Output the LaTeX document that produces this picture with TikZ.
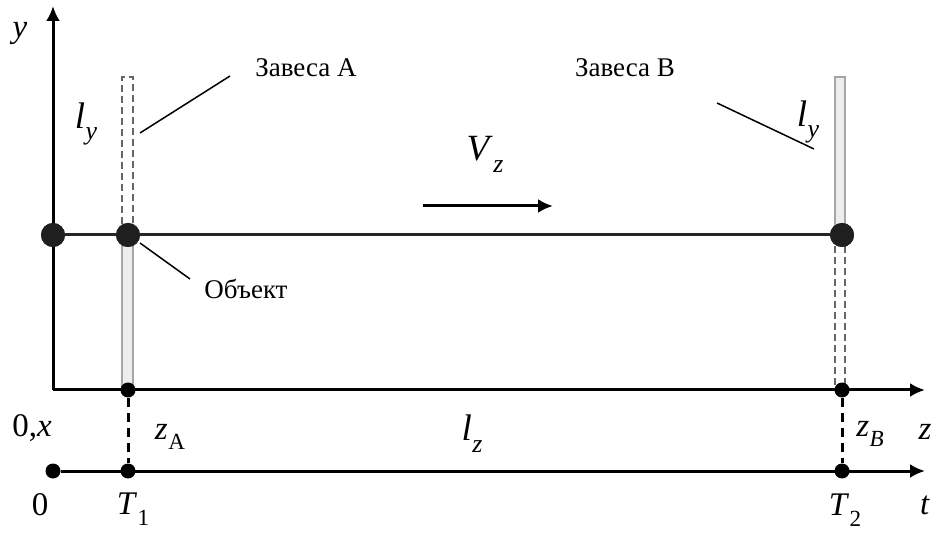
\documentclass[tikz,border=0pt]{standalone}
\usepackage{fontspec}
\usepackage{graphicx}
\setmainfont{Liberation Serif}
\usetikzlibrary{arrows.meta}

\newcommand\symsub[2]{\textit{#1}\kern0.5pt\raisebox{-0.32em}{\scalebox{0.7}{#2}}}

\tikzset{
  axis/.style={line width=3pt,-{Latex[length=15pt,width=14pt]}},
  bigdot/.style={circle,fill=black!88,inner sep=0pt,minimum size=24pt},
  smalldot/.style={circle,fill=black,inner sep=0pt,minimum size=15pt},
  curtain/.style={fill=black!7,draw=black!35,line width=1.5pt},
  ghost/.style={draw=black!60,line width=2pt,dash pattern=on 7pt off 4pt},
  drop/.style={line width=3pt,dash pattern=on 9pt off 6pt},
  leader/.style={line width=1.5pt},
  lbl/.style={font=\fontsize{27}{30}\selectfont},
  sym/.style={font=\fontsize{33}{36}\selectfont},
  bigsym/.style={font=\fontsize{37}{40}\selectfont},
}

\begin{document}
\begin{tikzpicture}[x=1pt,y=-1pt]
  \useasboundingbox (0,0) rectangle (937,534);

  % curtains
  \fill[curtain] (122,235) rectangle (133,390);
  \draw[ghost] (122,235) -- (122,77) -- (133,77) -- (133,235);
  \fill[curtain] (835,77) rectangle (845,235);
  \draw[ghost] (835,235) -- (835,390) (845,235) -- (845,390);

  % axes
  \coordinate (O) at (53,390);
  \coordinate (ytop) at (53,6);
  \coordinate (zend) at (925,390);
  \coordinate (tend) at (925,471);
  \draw[axis] (O) -- (ytop);
  \draw[axis] (O) -- (zend);

  % object line
  \node[bigdot] (d0) at (53,235) {};
  \node[bigdot] (dA) at (128,235) {};
  \node[bigdot] (dB) at (842,235) {};
  \draw[line width=3pt,black!85] (d0) -- (dA) -- (dB);
  \node[bigdot] at (d0) {};
  \node[bigdot] at (dA) {};
  \node[bigdot] at (dB) {};

  % time axis
  \node[smalldot] (t0) at (53,471) {};
  \node[smalldot] (t1) at (128,471) {};
  \node[smalldot] (t2) at (842,471) {};
  \node[smalldot] (zA) at (128,390) {};
  \node[smalldot] (zB) at (842,390) {};
  \draw[axis] (t0) -- (tend);
  \draw[drop] (zA) -- (t1);
  \draw[drop] (zB) -- (t2);

  % velocity
  \coordinate (vs) at (423,206);
  \coordinate (ve) at (553,206);
  \draw[axis] (vs) -- (ve);

  % labels
  \node[lbl] (zavA) at (306,68) {Завеса A};
  \node[lbl] (zavB) at (625,68) {Завеса B};
  \node[lbl] (obj) at (246,289) {Объект};
  \coordinate (lA1) at (140,133);
  \coordinate (lA2) at (230,76);
  \coordinate (lB1) at (717,103);
  \coordinate (lB2) at (814,149);
  \coordinate (lO1) at (140,243);
  \coordinate (lO2) at (190,279);
  \draw[leader] (lA1) -- (lA2);
  \draw[leader] (lB1) -- (lB2);
  \draw[leader] (lO1) -- (lO2);

  \node[sym] (ylbl) at (20,33) {\textit{y}};
  \node[bigsym] (lyA) at (86,124) {\symsub{l}{\textit{y}}};
  \node[bigsym] (lyB) at (808,122) {\symsub{l}{\textit{y}}};
  \node[bigsym] (vz) at (485,154) {\symsub{V}{\textit{z}}};
  \node[sym] (orig) at (32,428) {0,\textit{x}};
  \node[sym] (zAl) at (170,437) {\symsub{z}{A}};
  \node[bigsym] (lz) at (472,434) {\symsub{l}{\textit{z}}};
  \node[sym] (zBl) at (870,434) {\symsub{z}{\textit{B}}};
  \node[sym] (zl) at (925,432) {\textit{z}};
  \node[sym] (nul) at (40,505) {0};
  \node[sym] (T1) at (133,509) {\symsub{T}{1}};
  \node[sym] (T2) at (845,510) {\symsub{T}{2}};
  \node[sym] (tl) at (925,505) {\textit{t}};
\end{tikzpicture}
\end{document}
